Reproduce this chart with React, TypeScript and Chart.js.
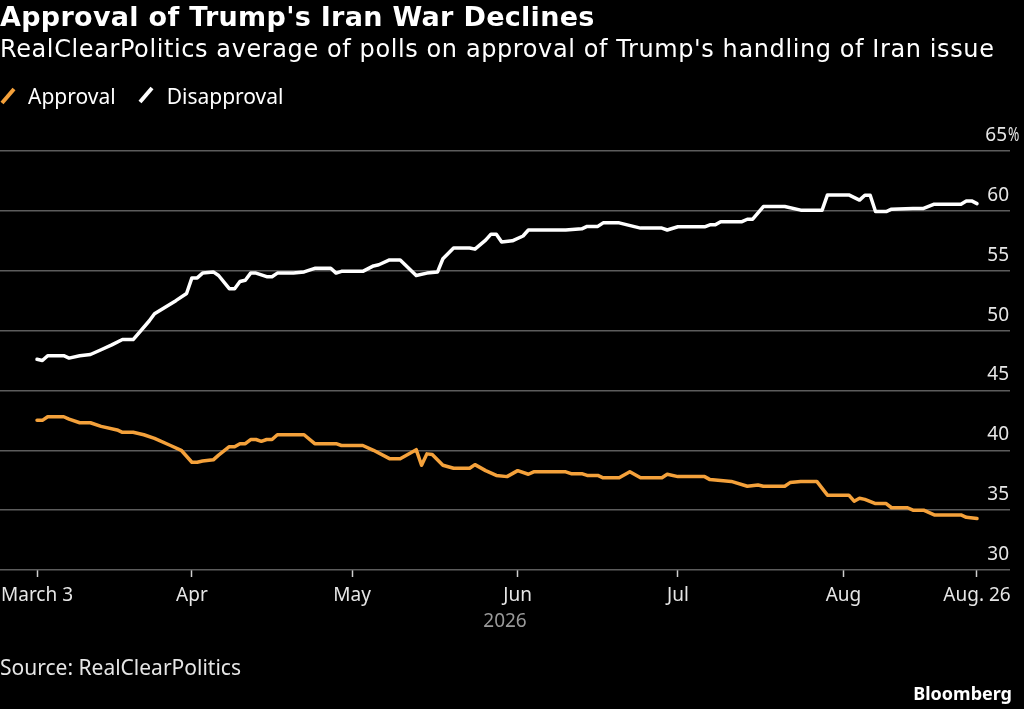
import React, { useEffect, useRef } from "react";
import { Chart, registerables } from "chart.js";

Chart.register(...registerables);

const FONT = "'Noto Sans', 'Open Sans', sans-serif";
const HEAD_FONT = "'DejaVu Sans', 'Noto Sans', sans-serif";

// x axis: days since March 3, 2026
const tickDays = [0, 29, 59, 90, 120, 151, 176];
const tickLabels = ["March 3", "Apr", "May", "Jun", "Jul", "Aug", "Aug. 26"];
const yearLabel = "2026";

const disapprovalDays = [
  0, 1, 2, 5, 6, 8, 10, 12, 14, 16, 18, 21, 22, 26, 28, 29, 30, 31, 33, 34, 36, 37, 38, 39, 40, 41,
  43, 44, 45, 48, 50, 52, 55, 56, 57, 61, 63, 64, 66, 68, 71, 73, 75, 76, 78, 81, 82, 84, 85, 86,
  87, 89, 91, 92, 99, 102, 103, 105, 106, 109, 113, 117, 118, 120, 125, 126, 127, 128, 132, 133,
  134, 136, 140, 143, 147, 148, 152, 154, 155, 156, 157, 159, 160, 164, 166, 168, 173, 174, 175, 176,
];
const disapprovalValues = [
  47.6, 47.5, 47.9, 47.9, 47.7, 47.9, 48.0, 48.4, 48.8, 49.25, 49.25, 50.8, 51.4, 52.5, 53.1, 54.4,
  54.4, 54.8, 54.9, 54.6, 53.5, 53.5, 54.1, 54.2, 54.8, 54.8, 54.5, 54.5, 54.8, 54.8, 54.9, 55.2,
  55.2, 54.8, 54.95, 54.95, 55.4, 55.5, 55.9, 55.9, 54.6, 54.8, 54.9, 56.0, 56.9, 56.9, 56.8, 57.55,
  58.05, 58.05, 57.4, 57.5, 57.9, 58.4, 58.4, 58.5, 58.7, 58.7, 59.0, 59.0, 58.56, 58.56, 58.4, 58.67,
  58.67, 58.83, 58.83, 59.1, 59.1, 59.3, 59.3, 60.36, 60.36, 60.06, 60.06, 61.33, 61.33, 60.9, 61.3,
  61.3, 59.94, 59.94, 60.14, 60.2, 60.2, 60.56, 60.56, 60.83, 60.83, 60.6,
];

const approvalDays = [
  0, 1, 2, 5, 6, 8, 10, 12, 15, 16, 18, 19, 20, 22, 25, 27, 29, 30, 31, 33, 34, 36, 37, 38, 39, 40,
  41, 42, 43, 44, 45, 50, 52, 56, 57, 61, 63, 66, 68, 71, 72, 73, 74, 76, 78, 81, 82, 84, 86, 88, 90,
  92, 93, 99, 100, 102, 103, 105, 106, 109, 111, 113, 117, 118, 120, 125, 126, 130, 133, 135, 136,
  140, 141, 143, 146, 148, 152, 153, 154, 155, 157, 159, 160, 163, 164, 166, 168, 173, 174, 176,
];
const approvalValues = [
  42.5, 42.5, 42.8, 42.8, 42.6, 42.3, 42.3, 42.0, 41.7, 41.5, 41.5, 41.4, 41.3, 41.0, 40.4, 40.0,
  39.0, 39.0, 39.1, 39.2, 39.6, 40.3, 40.3, 40.55, 40.55, 40.9, 40.9, 40.75, 40.9, 40.9, 41.3, 41.3,
  40.55, 40.55, 40.4, 40.4, 40.0, 39.3, 39.3, 40.05, 38.75, 39.7, 39.65, 38.75, 38.5, 38.5, 38.8,
  38.3, 37.9, 37.8, 38.3, 38.0, 38.2, 38.2, 38.05, 38.05, 37.9, 37.9, 37.7, 37.7, 38.2, 37.7, 37.7,
  38.0, 37.8, 37.8, 37.55, 37.4, 37.0, 37.1, 37.0, 37.0, 37.3, 37.4, 37.4, 36.25, 36.25, 35.75, 36.0,
  35.9, 35.55, 35.55, 35.2, 35.2, 35.0, 35.0, 34.6, 34.6, 34.4, 34.3,
];

const ORANGE = "#f4a13b";
const WHITE = "#ffffff";
const GRID = "#5c5c5c";
const TEXT = "#e6e6e6";

const yLabelPlugin = {
  id: "yLabels",
  afterDraw(chart: any) {
    const { ctx, chartArea } = chart;
    const ys = chart.scales.y;
    ctx.save();
    ctx.font = `19px ${FONT}`;
    ctx.fillStyle = TEXT;
    ctx.textBaseline = "alphabetic";
    const right = chartArea.right - 1;
    ys.ticks.forEach((t: any) => {
      const py = ys.getPixelForValue(t.value) - 10;
      ctx.textAlign = "right";
      if (t.value === ys.max) {
        ctx.fillText(String(t.value), right - 2, py);
        ctx.save();
        ctx.translate(right - 1, py);
        ctx.scale(0.72, 1);
        ctx.textAlign = "left";
        ctx.fillText("%", 0, 0);
        ctx.restore();
      } else {
        ctx.fillText(String(t.value), right, py);
      }
    });
    ctx.restore();
  },
};

function Slash({ color }: { color: string }) {
  return (
    <svg width="16" height="18" style={{ display: "inline-block", verticalAlign: "baseline" }}>
      <line x1="2" y1="16" x2="14" y2="2" stroke={color} strokeWidth="4" />
    </svg>
  );
}

export default function App() {
  const canvasRef = useRef<HTMLCanvasElement | null>(null);

  useEffect(() => {
    const canvas = canvasRef.current;
    if (!canvas) return;
    Chart.defaults.font.family = FONT;
    const chart = new Chart(canvas, {
      type: "line",
      data: {
        datasets: [
          {
            label: "Disapproval",
            data: disapprovalDays.map((d, i) => ({ x: d, y: disapprovalValues[i] })),
            borderColor: WHITE,
            borderWidth: 3.5,
            pointRadius: 0,
            tension: 0,
            borderJoinStyle: "round",
            borderCapStyle: "round",
          },
          {
            label: "Approval",
            data: approvalDays.map((d, i) => ({ x: d, y: approvalValues[i] })),
            borderColor: ORANGE,
            borderWidth: 3.5,
            pointRadius: 0,
            tension: 0,
            borderJoinStyle: "round",
            borderCapStyle: "round",
          },
        ],
      },
      options: {
        responsive: false,
        animation: false,
        events: [],
        layout: { padding: { top: 151, right: 14, bottom: 76, left: 0 } },
        plugins: {
          legend: { display: false },
          tooltip: { enabled: false },
          title: { display: false },
        },
        scales: {
          x: {
            type: "linear",
            min: -6.93,
            max: 182.18,
            afterBuildTicks: (scale: any) => {
              scale.ticks = tickDays.map((v) => ({ value: v }));
            },
            afterFit: (scale: any) => {
              scale.height = 63;
              scale.paddingLeft = 0;
              scale.paddingRight = 0;
            },
            ticks: {
              autoSkip: false,
              maxRotation: 0,
              minRotation: 0,
              color: TEXT,
              font: { size: 19, family: FONT },
              padding: 7,
              callback: (v: any) => {
                const i = tickDays.indexOf(Number(v));
                return i >= 0 ? tickLabels[i] : "";
              },
            },
            grid: {
              drawOnChartArea: false,
              drawTicks: true,
              tickLength: 7,
              tickColor: "#cfcfcf",
              tickWidth: 1.5,
            },
            border: { display: false },
            title: {
              display: true,
              text: yearLabel,
              color: "#9a9a9a",
              font: { size: 19, family: FONT },
              padding: { top: 0, bottom: 0 },
            },
          },
          y: {
            type: "linear",
            position: "right",
            min: 30,
            max: 65,
            afterFit: (scale: any) => {
              scale.width = 0;
            },
            ticks: { display: false, stepSize: 5 },
            grid: {
              color: GRID,
              lineWidth: 1.5,
              drawTicks: false,
            },
            border: { display: false },
          },
        },
      },
      plugins: [yLabelPlugin],
    });
    return () => chart.destroy();
  }, []);

  return (
    <div
      style={{
        position: "absolute",
        left: 0,
        top: 0,
        width: 1024,
        height: 709,
        background: "#000",
        overflow: "hidden",
        fontFamily: FONT,
        color: "#fff",
      }}
    >
      <canvas
        ref={canvasRef}
        width={1024}
        height={709}
        style={{ position: "absolute", left: 0, top: 0, width: 1024, height: 709 }}
      />
      <div
        style={{
          position: "absolute",
          left: 0,
          top: 2,
          fontFamily: HEAD_FONT,
          fontSize: 27,
          lineHeight: "30px",
          letterSpacing: "0.3px",
          fontWeight: 700,
          whiteSpace: "nowrap",
        }}
      >
        Approval of Trump's Iran War Declines
      </div>
      <div
        style={{
          position: "absolute",
          left: 0,
          top: 35,
          fontFamily: HEAD_FONT,
          fontSize: 24,
          lineHeight: "28px",
          letterSpacing: "0.6px",
          whiteSpace: "nowrap",
        }}
      >
        RealClearPolitics average of polls on approval of Trump's handling of Iran issue
      </div>
      <div
        style={{
          position: "absolute",
          left: 0,
          top: 83,
          fontSize: 21,
          lineHeight: "26px",
          whiteSpace: "nowrap",
          display: "flex",
          alignItems: "center",
        }}
      >
        <Slash color={ORANGE} />
        <span style={{ marginLeft: 12 }}>Approval</span>
        <span style={{ marginLeft: 22 }}>
          <Slash color={WHITE} />
        </span>
        <span style={{ marginLeft: 13 }}>Disapproval</span>
      </div>
      <div
        style={{
          position: "absolute",
          left: 0,
          top: 654,
          fontSize: 21,
          lineHeight: "26px",
          whiteSpace: "nowrap",
          color: TEXT,
        }}
      >
        Source: RealClearPolitics
      </div>
      <div
        style={{
          position: "absolute",
          right: 12,
          top: 681,
          fontSize: 18,
          lineHeight: "24px",
          fontWeight: 700,
          whiteSpace: "nowrap",
        }}
      >
        Bloomberg
      </div>
    </div>
  );
}
